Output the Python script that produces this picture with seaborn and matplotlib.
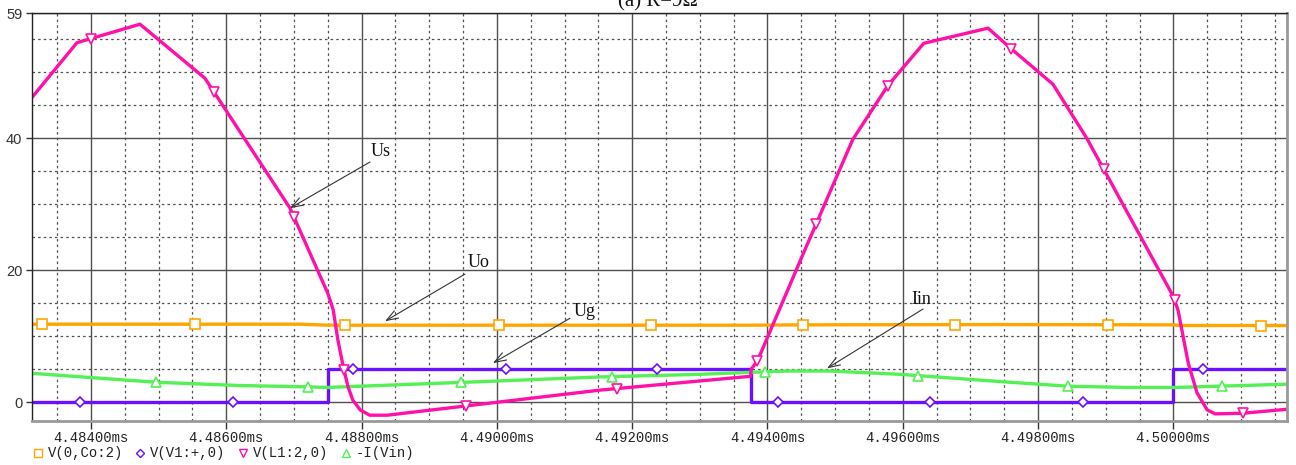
import numpy as np
import matplotlib
matplotlib.use("Agg")
import matplotlib.pyplot as plt
from matplotlib.lines import Line2D
from matplotlib.ticker import FixedLocator, MultipleLocator
import seaborn as sns

# ---- simulation traces (time in ms) ----
vo_t = [4.483128, 4.48710, 4.48750, 4.49375, 4.49450, 4.49740, 4.50000, 4.50010, 4.50168]
vo_v = [11.80, 11.80, 11.65, 11.65, 11.70, 11.75, 11.70, 11.60, 11.60]

vg_t = [4.483128, 4.48750, 4.48750, 4.49375, 4.49375, 4.50000, 4.50000, 4.50168]
vg_v = [0, 0, 5, 5, 0, 0, 5, 5]

us_t = [4.483128, 4.483793, 4.484724, 4.485685, 4.486942, 4.48750, 4.48758, 4.48765,
        4.48773, 4.48780, 4.48787, 4.48798, 4.48812, 4.48838, 4.48954, 4.49152,
        4.49375, 4.49376, 4.49385, 4.49455, 4.49526, 4.49578, 4.49631, 4.49726,
        4.49760, 4.49822, 4.49872, 4.50000, 4.50007, 4.50022, 4.50035, 4.50050,
        4.50062, 4.50103, 4.50168]
us_v = [46.2, 54.5, 57.3, 49.1, 29.4, 16.5, 14.0, 9.4,
        5.3, 2.3, 0.3, -1.2, -2.0, -2.0, -0.6, 1.8,
        3.9, 5.0, 6.2, 23.0, 39.8, 48.0, 54.4, 56.7,
        53.6, 48.2, 40.0, 16.0, 13.9, 5.9, 1.4, -1.2,
        -1.8, -1.7, -1.1]

iin_t = [4.483128, 4.48496, 4.48620, 4.48720, 4.48750, 4.48760, 4.48954, 4.49152,
         4.49300, 4.49375, 4.49430, 4.49492, 4.49596, 4.49744, 4.49844, 4.49935,
         4.50000, 4.50168]
iin_v = [4.35, 3.0, 2.5, 2.3, 2.2, 2.25, 3.0, 3.8,
         4.2, 4.5, 4.7, 4.7, 4.2, 3.1, 2.4, 2.2,
         2.2, 2.7]

# symbol positions along each trace
vo_mk = [4.48328, 4.48554, 4.48775, 4.49003, 4.49228, 4.49453, 4.49677, 4.49903, 4.50130]
vg_mk = [4.483837, 4.486099, 4.487873, 4.490135, 4.492367, 4.494155, 4.496402, 4.498664, 4.500438]
us_mk = [4.48400, 4.48582, 4.48700, 4.48774, 4.48954, 4.49178, 4.49385, 4.49472,
         4.49578, 4.49760, 4.49897, 4.50002, 4.50103]
iin_mk = [4.484961, 4.487208, 4.489469, 4.491701, 4.493963, 4.496225, 4.498442, 4.500719]

x_ticks = [4.484, 4.486, 4.488, 4.490, 4.492, 4.494, 4.496, 4.498, 4.500]
x_labels = ["4.48400ms", "4.48600ms", "4.48800ms", "4.49000ms", "4.49200ms",
            "4.49400ms", "4.49600ms", "4.49800ms", "4.50000ms"]
y_ticks = [0, 20, 40, 59]
y_labels = ["0", "20", "40", "59"]

legend_names = ["V(0,Co:2)", "V(V1:+,0)", "V(L1:2,0)", "-I(Vin)"]

c_vo = "#ffa500"
c_vg = "#6a10ff"
c_us = "#ff10a8"
c_iin = "#55f055"

sns.set_theme(style="white")
plt.rcParams["font.family"] = ["DejaVu Sans"]

fig = plt.figure(figsize=(12.96, 4.65), dpi=100)
ax = fig.add_axes([32 / 1296, 1 - 421 / 465, (1287 - 32) / 1296, (421 - 13) / 465])

x0, x1 = 4.483128, 4.50168
ax.set_xlim(x0, x1)
ax.set_ylim(-2.88, 59)

# grid: solid at major divisions, dotted at minor ones
ax.xaxis.set_major_locator(FixedLocator(x_ticks))
ax.xaxis.set_minor_locator(MultipleLocator(0.0005))
ax.yaxis.set_major_locator(FixedLocator(y_ticks))
ax.yaxis.set_minor_locator(MultipleLocator(5))
ax.grid(which="major", color="#505050", lw=1.0, ls="-")
ax.grid(which="minor", color="#505050", lw=0.9, ls=(0, (2, 2.5)))
ax.set_axisbelow(True)

traces = [(vo_t, vo_v, c_vo), (vg_t, vg_v, c_vg), (iin_t, iin_v, c_iin), (us_t, us_v, c_us)]
for t, v, c in traces:
    sns.lineplot(x=t, y=v, ax=ax, color=c, lw=2.4, estimator=None, sort=False)

marker_specs = [(vo_mk, vo_t, vo_v, c_vo, "s"), (vg_mk, vg_t, vg_v, c_vg, "D"),
                (iin_mk, iin_t, iin_v, c_iin, "^"), (us_mk, us_t, us_v, c_us, "v")]
for mk, t, v, c, m in marker_specs:
    tt = np.asarray(t)
    vv = np.asarray(v)
    # step trace: pick the level on the proper side of an edge
    ys = []
    for x in mk:
        idx = np.searchsorted(tt, x, side="right") - 1
        idx = min(max(idx, 0), len(tt) - 2)
        x_a, x_b = tt[idx], tt[idx + 1]
        f = 0.0 if x_b == x_a else (x - x_a) / (x_b - x_a)
        ys.append(vv[idx] + f * (vv[idx + 1] - vv[idx]))
    ax.plot(mk, ys, ls="none", marker=m, ms=6.5 if m != "D" else 4.8, mfc="white",
            mec=c, mew=1.2, zorder=5)

ax.set_xticks(x_ticks)
ax.set_xticklabels(x_labels, family="Liberation Mono", fontsize=10, color="#222222")
ax.set_yticks(y_ticks)
ax.set_yticklabels(y_labels, family="Liberation Sans", fontsize=10.5, color="#333333")
ax.tick_params(axis="x", which="major", direction="out", length=6, width=1,
               color="#333333", pad=1.5, bottom=True)
ax.tick_params(axis="y", which="major", direction="out", length=4, width=1,
               color="#333333", pad=3, left=True)
ax.tick_params(which="minor", length=0)
ax.set_xlabel("")
ax.set_ylabel("")

for side in ["left", "top"]:
    ax.spines[side].set_color("#222222")
    ax.spines[side].set_linewidth(1.0)
for side in ["bottom", "right"]:
    ax.spines[side].set_color("#999999")
    ax.spines[side].set_linewidth(2.0)

# labels with pointer arrows
def pointer(label, tail, tip, text_pos):
    ax.annotate("", xy=tip, xytext=tail,
                arrowprops=dict(arrowstyle="->,head_length=0.7,head_width=0.25",
                                color="#333333", lw=0.8, shrinkA=0, shrinkB=0))
    ax.text(text_pos[0], text_pos[1], label, family="Liberation Serif", fontsize=13,
            ha="center", va="center", color="#111111")

pointer("Us", (4.488124, 36.4), (4.486942, float(np.interp(4.486942, us_t, us_v))),
        (4.488287, 38.0))
pointer("Uo", (4.489528, 19.4), (4.488346, float(np.interp(4.488346, vo_t, vo_v)) + 0.6),
        (4.489735, 21.1))
pointer("Ug", (4.491080, 12.7), (4.489942, 5.9), (4.491302, 13.8))
pointer("Iin", (4.496299, 14.1), (4.494880, float(np.interp(4.494880, iin_t, iin_v)) + 0.4),
        (4.496269, 15.6))

# title, partly outside the top edge
fig.text(658 / 1296, 1 - 6 / 465, "(a) R=9Ω", family="Liberation Serif", fontsize=15,
         ha="center", va="baseline", color="#111111")

# trace legend along the bottom
leg_marks = ["s", "D", "v", "^"]
leg_cols = [c_vo, c_vg, c_us, c_iin]
leg_x = [38, 140, 243, 346]
for name, m, c, lx in zip(legend_names, leg_marks, leg_cols, leg_x):
    fig.add_artist(Line2D([lx / 1296], [1 - 453 / 465], transform=fig.transFigure,
                          marker=m, ms=5.5 if m != "D" else 4, mfc="white", mec=c,
                          mew=1.0, ls="none"))
    fig.text((lx + 10) / 1296, 1 - 453 / 465, name, family="Liberation Mono",
             fontsize=10, ha="left", va="center", color="#222222")

fig.savefig("out.png", dpi=100)
